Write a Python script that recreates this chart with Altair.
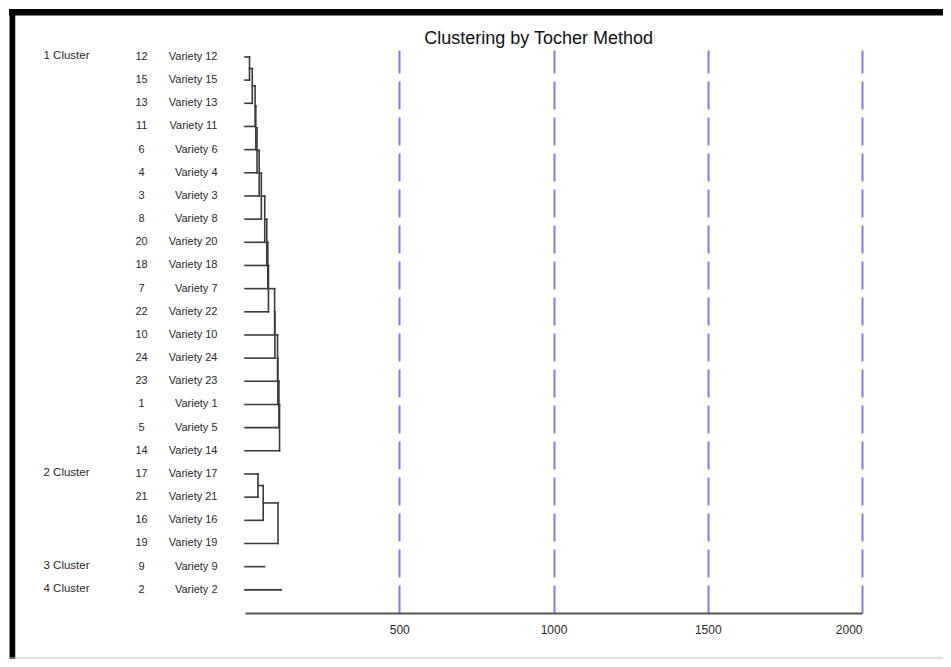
import altair as alt
import pandas as pd

# ---- data ----
leaf_order = [12, 15, 13, 11, 6, 4, 3, 8, 20, 18, 7, 22, 10, 24, 23, 1, 5, 14,
              17, 21, 16, 19, 9, 2]
cluster_names = ["1 Cluster", "2 Cluster", "3 Cluster", "4 Cluster"]
cluster_first_leaf = [12, 17, 9, 2]

merge_a = ["V12", "M1", "M2", "M3", "M4", "M5", "M6", "M7", "M8", "M9", "M10",
           "M11", "M12", "M13", "M14", "M15", "M16", "V17", "M18", "M19"]
merge_b = ["V15", "V13", "V11", "V6", "V4", "V3", "V8", "V20", "V18", "V7", "V22",
           "V10", "V24", "V23", "V1", "V5", "V14", "V21", "V16", "V19"]
merge_height = [14.6, 23.6, 32.7, 35, 39, 46, 53, 64, 70.5, 74, 76,
                96, 97, 105.5, 106.5, 110, 112, 42, 59, 107]

singleton_leaf = [9, 2]
singleton_height = [63.5, 117.5]

axis_values = [500, 1000, 1500, 2000]
title_text = "Clustering by Tocher Method"

# ---- build dendrogram segments ----
pos = {f"V{v}": (row, 0.0) for row, v in enumerate(leaf_order)}
segs = []
for i, (a, b, h) in enumerate(zip(merge_a, merge_b, merge_height)):
    ya, ha = pos[a]
    yb, hb = pos[b]
    segs.append(dict(x=ha, x2=h, y=ya, y2=ya))
    segs.append(dict(x=hb, x2=h, y=yb, y2=yb))
    segs.append(dict(x=h, x2=h, y=ya, y2=yb))
    pos[f"M{i + 1}"] = ((ya + yb) / 2, h)
for v, h in zip(singleton_leaf, singleton_height):
    r = leaf_order.index(v)
    segs.append(dict(x=0.0, x2=h, y=r, y2=r))
seg_df = pd.DataFrame(segs)

label_df = pd.DataFrame({
    "row": list(range(len(leaf_order))),
    "num": [str(v) for v in leaf_order],
    "name": [f"Variety {v}" for v in leaf_order],
})
cluster_df = pd.DataFrame({
    "row": [leaf_order.index(v) for v in cluster_first_leaf],
    "cluster": cluster_names,
})
title_df = pd.DataFrame({"t": [title_text]})

FONT = "Liberation Sans, Arial, sans-serif"
TXT = "#2a2a2a"

y_scale = alt.Scale(domain=[-0.3, 24.0], reverse=True, nice=False, zero=False)
x_scale = alt.Scale(domain=[0, 2000], nice=False, zero=False)

tree = alt.Chart(seg_df).mark_rule(color="#3a3a3a", strokeWidth=1.6, strokeCap="square").encode(
    x=alt.X("x:Q", scale=x_scale,
            axis=alt.Axis(title=None, values=axis_values, format="d", grid=True,
                          gridColor="#7c7cff", gridDash=[28, 8], gridWidth=2,
                          gridOpacity=1, ticks=False, domainColor="#555555",
                          domainWidth=2, labelFont=FONT, labelFontSize=12,
                          labelColor=TXT, labelPadding=11)),
    x2="x2:Q",
    y=alt.Y("y:Q", scale=y_scale, axis=None),
    y2="y2:Q",
)

nums = alt.Chart(label_df).mark_text(align="center", baseline="middle", font=FONT,
                                     fontSize=11, color=TXT).encode(
    x=alt.value(-103.4),
    y=alt.Y("row:Q", scale=y_scale, axis=None),
    text="num:N",
)
names = alt.Chart(label_df).mark_text(align="right", baseline="middle", font=FONT,
                                      fontSize=11, color=TXT).encode(
    x=alt.value(-27.5),
    y=alt.Y("row:Q", scale=y_scale, axis=None),
    text="name:N",
)
clusters = alt.Chart(cluster_df).mark_text(align="left", baseline="middle", font=FONT,
                                           fontSize=11.5, color=TXT, dy=-1).encode(
    x=alt.value(-201.5),
    y=alt.Y("row:Q", scale=y_scale, axis=None),
    text="cluster:N",
)
title = alt.Chart(title_df).mark_text(align="center", baseline="middle", font=FONT,
                                      fontSize=18, color="#111111").encode(
    x=alt.value(293.6), y=alt.value(-11.5), text="t:N")

frame_df = pd.DataFrame({"k": [0]})
top_line = alt.Chart(frame_df).mark_rule(color="black", strokeWidth=6.5).encode(
    x=alt.value(-236), x2=alt.value(706), y=alt.value(-37.7), y2=alt.value(-37.7))
left_line = alt.Chart(frame_df).mark_rule(color="black", strokeWidth=5.7).encode(
    x=alt.value(-232.6), x2=alt.value(-232.6), y=alt.value(-41), y2=alt.value(620))
bottom_line = alt.Chart(frame_df).mark_rule(color="#bdbdbd", strokeWidth=1.2).encode(
    x=alt.value(-236), x2=alt.value(706), y=alt.value(608), y2=alt.value(608))

chart = alt.layer(tree, nums, names, clusters, title, top_line, left_line, bottom_line).properties(
    width=617,
    height=563,
    autosize=alt.AutoSizeParams(type="none"),
    padding={"left": 237, "top": 42, "right": 81, "bottom": 46},
).configure_view(stroke=None)

chart.save("out.html", embed_options={"renderer": "svg", "actions": False})
